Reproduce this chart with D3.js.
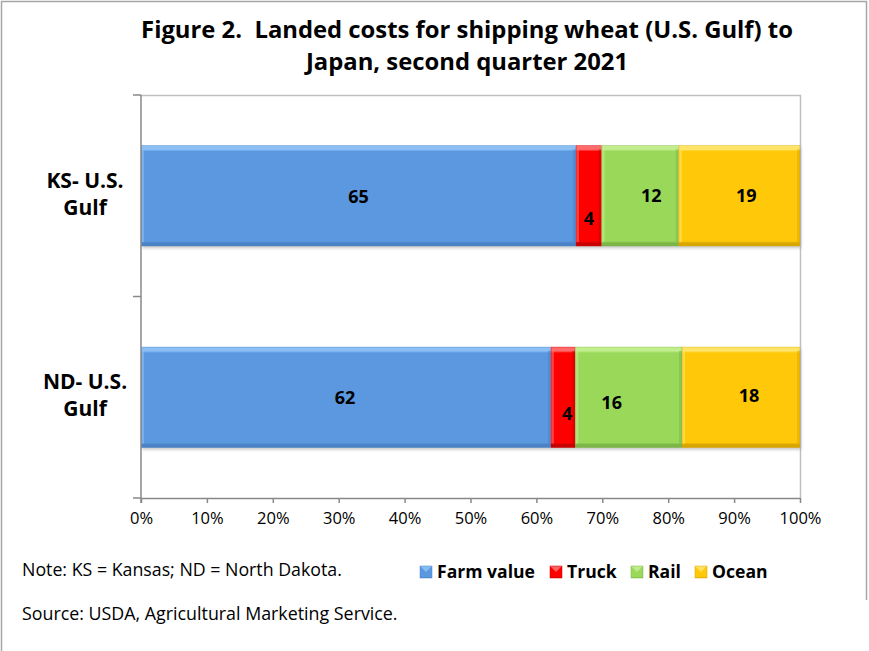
<!DOCTYPE html>
<html>
<head>
<meta charset="utf-8">
<script src="https://cdn.jsdelivr.net/npm/d3@7"></script>
<style>
  body { margin: 0; background: #fff; }
  svg { display: block; }
  text { font-family: "Open Sans", Lato, "Liberation Sans", sans-serif; fill: #000; white-space: pre; }
</style>
</head>
<body>
<svg id="chart" width="869" height="651"></svg>
<script>
// ---------- data ----------
const titleLines = ["Figure 2.  Landed costs for shipping wheat (U.S. Gulf) to", "Japan, second quarter 2021"];
const categories = ["KS- U.S. Gulf", "ND- U.S. Gulf"];
const categoryLines = [["KS- U.S.", "Gulf"], ["ND- U.S.", "Gulf"]];
const seriesNames = ["Farm value", "Truck", "Rail", "Ocean"];
// shares of total (percent) as drawn
const ksShares = [66.0, 3.9, 11.7, 18.4];
const ndShares = [62.2, 3.7, 16.2, 17.9];
// data labels as printed
const ksLabels = ["65", "4", "12", "19"];
const ndLabels = ["62", "4", "16", "18"];
const xTicks = [0, 0.1, 0.2, 0.3, 0.4, 0.5, 0.6, 0.7, 0.8, 0.9, 1.0];
const noteText = "Note: KS = Kansas; ND = North Dakota.";
const sourceText = "Source: USDA, Agricultural Marketing Service.";

// ---------- styles ----------
const colors = ["#5b98e0", "#ff0000", "#9ad85a", "#ffc90a"];
const lightColors = ["#8cc0f5", "#ff6a6a", "#c2ee8e", "#ffe46a"];
const darkColors = ["#4a82c6", "#c80000", "#7cb646", "#d9a600"];
const labelNudge = [
  [[0, 1], [0, 23], [11, 0], [7, 0]],
  [[-1, 0], [4, 16], [-17, 5], [8, -2]]
];

const svg = d3.select("#chart");

// scale a text's font-size so it spans a target width
function fit(sel, target) {
  const node = sel.node();
  const fs = parseFloat(sel.style("font-size"));
  const len = node.getComputedTextLength();
  const nfs = fs * target / len;
  sel.style("font-size", nfs + "px");
  return nfs;
}

// outer frame
svg.append("path")
  .attr("d", "M1.5,651 L1.5,1.5 L866.5,1.5 L866.5,600")
  .attr("fill", "none").attr("stroke", "#a6a6a6").attr("stroke-width", 1.5);

// title
const tl = svg.append("g").selectAll("text").data(titleLines).join("text")
  .attr("x", 467).attr("y", (d, i) => 38 + i * 32)
  .attr("text-anchor", "middle")
  .style("font-weight", "bold").style("font-size", "22px")
  .text(d => d);
const tfs = fit(d3.select(tl.nodes()[0]), 652);
tl.style("font-size", tfs + "px");

// scales
const plot = { left: 141, right: 800, top: 95, bottom: 498 };
const x = d3.scaleLinear().domain([0, 1]).range([plot.left, plot.right]);
const y = d3.scaleBand().domain(categories).range([plot.top, plot.bottom])
  .paddingInner(0.5).paddingOuter(0.25);

// plot border (top/right)
svg.append("path")
  .attr("d", `M${plot.left},${plot.top + 0.5} L${plot.right + 0.5},${plot.top + 0.5} L${plot.right + 0.5},${plot.bottom}`)
  .attr("fill", "none").attr("stroke", "#bfbfbf").attr("stroke-width", 1.5);

// defs: gradients & shadow
const defs = svg.append("defs");
colors.forEach((c, i) => {
  const g = defs.append("linearGradient").attr("id", "grad" + i)
    .attr("x1", 0).attr("y1", 0).attr("x2", 0).attr("y2", 1);
  [[0, lightColors[i]], [0.04, lightColors[i]], [0.06, c], [0.95, c], [0.97, darkColors[i]], [1, darkColors[i]]]
    .forEach(([o, col]) => g.append("stop").attr("offset", o).attr("stop-color", col));
});
const f = defs.append("filter").attr("id", "shadow").attr("x", "-5%").attr("y", "-20%").attr("width", "110%").attr("height", "150%");
f.append("feGaussianBlur").attr("stdDeviation", 1.5);

// stacked data
const rows = [ksShares, ndShares].map((vals, r) => {
  const total = d3.sum(vals);
  let acc = 0;
  return vals.map((v, i) => {
    const seg = { cat: categories[r], r, i, x0: acc / total, x1: (acc + v) / total,
      label: (r === 0 ? ksLabels : ndLabels)[i] };
    acc += v;
    return seg;
  });
});

const bars = svg.append("g");
rows.forEach(row => {
  const yy = y(row[0].cat), h = y.bandwidth();
  bars.append("rect")
    .attr("x", x(0) + 1).attr("y", yy + 2)
    .attr("width", x(1) - x(0)).attr("height", h)
    .attr("fill", "#9a9a9a").attr("opacity", 0.55).attr("filter", "url(#shadow)");
  row.forEach(s => {
    const x0 = x(s.x0), w = x(s.x1) - x(s.x0);
    const g = bars.append("g");
    g.append("rect").attr("x", x0).attr("y", yy).attr("width", w).attr("height", h)
      .attr("fill", `url(#grad${s.i})`);
    g.append("rect").attr("x", x0).attr("y", yy + 4).attr("width", 3).attr("height", h - 8)
      .attr("fill", lightColors[s.i]).attr("opacity", 0.6);
    g.append("rect").attr("x", x0 + w - 3).attr("y", yy + 4).attr("width", 3).attr("height", h - 8)
      .attr("fill", darkColors[s.i]).attr("opacity", 0.5);
    g.append("rect").attr("x", x0 + 0.25).attr("y", yy + 0.25).attr("width", w - 0.5).attr("height", h - 0.5)
      .attr("fill", "none").attr("stroke", darkColors[s.i]).attr("stroke-width", 0.5).attr("opacity", 0.6);
  });
});

// data labels
const labs = svg.append("g");
rows.forEach(row => row.forEach(s => {
  const n = labelNudge[s.r][s.i];
  labs.append("text")
    .attr("x", (x(s.x0) + x(s.x1)) / 2 + n[0])
    .attr("y", y(s.cat) + y.bandwidth() / 2 + n[1])
    .attr("dy", "0.36em").attr("text-anchor", "middle")
    .style("font-weight", "bold").style("font-size", "18px")
    .text(s.label);
}));

// x axis
const xAxis = svg.append("g").attr("transform", `translate(0,${plot.bottom})`)
  .call(d3.axisBottom(x).tickValues(xTicks).tickFormat(d3.format(".0%")).tickSize(5).tickPadding(9).tickSizeOuter(0));
xAxis.select(".domain").attr("stroke", "#888").attr("stroke-width", 1.5);
xAxis.selectAll(".tick line").attr("stroke", "#888").attr("stroke-width", 1.5);
xAxis.selectAll(".tick text").style("font-size", "16.5px").style("font-family", "'Open Sans', Lato, sans-serif").attr("fill", "#111");

// y axis (category): line + boundary ticks
const yAxis = svg.append("g");
yAxis.append("line").attr("x1", plot.left).attr("x2", plot.left).attr("y1", plot.top).attr("y2", plot.bottom + 5)
  .attr("stroke", "#888").attr("stroke-width", 1.5);
const bounds = [plot.top, (y(categories[0]) + y.bandwidth() + y(categories[1])) / 2, plot.bottom];
yAxis.selectAll(".yt").data(bounds).join("line")
  .attr("x1", plot.left - 8).attr("x2", plot.left).attr("y1", d => d).attr("y2", d => d)
  .attr("stroke", "#888").attr("stroke-width", 1.5);
categories.forEach((c, r) => {
  const cy = y(c) + y.bandwidth() / 2;
  yAxis.append("g").selectAll("text").data(categoryLines[r]).join("text")
    .attr("x", 85).attr("y", (d, i) => cy + (i - 0.5) * 27 - 2)
    .attr("dy", "0.36em").attr("text-anchor", "middle")
    .style("font-weight", "bold").style("font-size", "21px")
    .text(d => d);
});

// legend
const legendX = [420, 550, 631, 695];
const lg = svg.append("g");
let legSize = null;
seriesNames.forEach((nme, i) => {
  const g = lg.append("g").attr("transform", `translate(${legendX[i]},566)`);
  g.append("rect").attr("width", 12).attr("height", 12).attr("fill", `url(#grad${i})`)
    .attr("stroke", darkColors[i]).attr("stroke-width", 0.5);
  g.append("path").attr("d", "M1,1 L11,1 L6,6 Z").attr("fill", lightColors[i]).attr("opacity", 0.9);
  const t = g.append("text").attr("x", 17).attr("y", 6).attr("dy", "0.36em")
    .style("font-weight", "bold").style("font-size", "17px").text(nme);
  if (legSize === null) legSize = fit(t, 98);
  t.style("font-size", legSize + "px");
});

// note & source
const nt = svg.append("text").attr("x", 22).attr("y", 570).attr("dy", "0.36em").style("font-size", "15px").attr("fill", "#111").text(noteText);
fit(nt, 320);
const st = svg.append("text").attr("x", 22).attr("y", 614).attr("dy", "0.36em").style("font-size", "15px").attr("fill", "#111").text(sourceText);
fit(st, 376);
</script>
</body>
</html>
